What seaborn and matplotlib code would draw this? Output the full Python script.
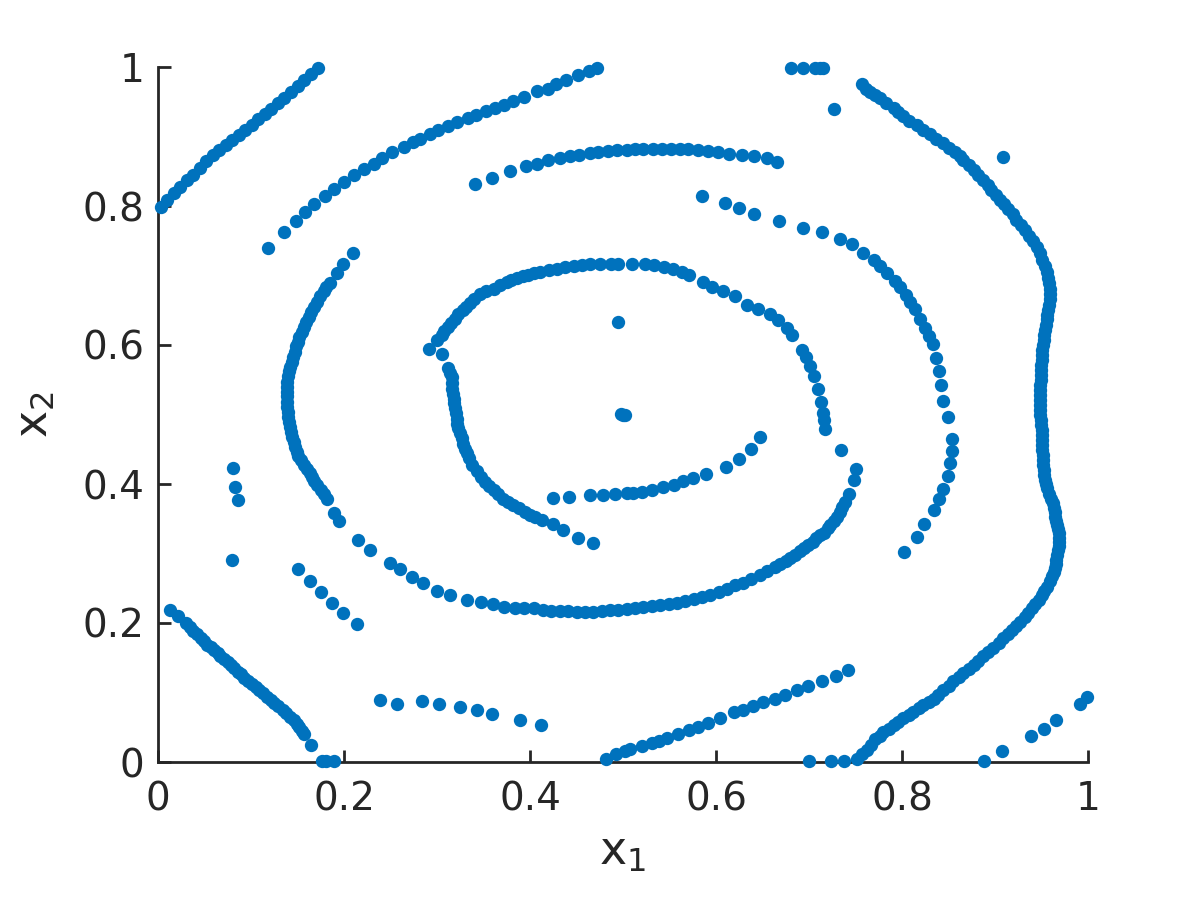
import matplotlib
matplotlib.use("Agg")
import matplotlib.pyplot as plt
import seaborn as sns
import pandas as pd

# points, grouped by visible curve (x1, x2)
top_left_diag = [
    (0.003, 0.799), (0.010, 0.809), (0.017, 0.819), (0.024, 0.828), (0.031, 0.837),
    (0.038, 0.845), (0.045, 0.855), (0.052, 0.865), (0.059, 0.873), (0.066, 0.880),
    (0.073, 0.888), (0.080, 0.895), (0.087, 0.902), (0.094, 0.910), (0.101, 0.917),
    (0.108, 0.925), (0.115, 0.932), (0.122, 0.940), (0.129, 0.948), (0.136, 0.956),
    (0.143, 0.964), (0.150, 0.972), (0.157, 0.981), (0.164, 0.990), (0.172, 0.999)]

outer_top_arc = [
    (0.118, 0.740), (0.135, 0.762), (0.148, 0.778), (0.158, 0.791), (0.168, 0.803),
    (0.180, 0.814), (0.189, 0.824), (0.200, 0.834), (0.211, 0.845), (0.222, 0.853),
    (0.232, 0.861), (0.241, 0.869), (0.252, 0.877), (0.264, 0.885), (0.274, 0.892),
    (0.282, 0.897), (0.292, 0.903), (0.301, 0.909), (0.312, 0.915), (0.322, 0.921),
    (0.333, 0.926), (0.342, 0.931), (0.353, 0.937), (0.362, 0.941), (0.372, 0.945),
    (0.382, 0.951), (0.394, 0.957), (0.408, 0.965), (0.419, 0.969), (0.428, 0.975),
    (0.439, 0.981), (0.452, 0.988), (0.463, 0.994), (0.472, 0.999)]

upper_arc = [
    (0.341, 0.831), (0.359, 0.841), (0.378, 0.850), (0.396, 0.857), (0.407, 0.861),
    (0.419, 0.866), (0.432, 0.869), (0.443, 0.872), (0.453, 0.874), (0.464, 0.876),
    (0.473, 0.877), (0.484, 0.879), (0.494, 0.880), (0.504, 0.881), (0.513, 0.882),
    (0.522, 0.882), (0.532, 0.882), (0.542, 0.882), (0.552, 0.882), (0.561, 0.882),
    (0.570, 0.882), (0.581, 0.881), (0.591, 0.879), (0.602, 0.877), (0.614, 0.875),
    (0.628, 0.874), (0.641, 0.872), (0.655, 0.869), (0.666, 0.863)]

right_sparse_arc = [
    (0.585, 0.815), (0.610, 0.804), (0.625, 0.797), (0.641, 0.789), (0.668, 0.778),
    (0.694, 0.769), (0.714, 0.762), (0.733, 0.753), (0.746, 0.745), (0.758, 0.733),
    (0.770, 0.722), (0.776, 0.714), (0.784, 0.703), (0.792, 0.692), (0.798, 0.683),
    (0.804, 0.672), (0.809, 0.662), (0.814, 0.652), (0.819, 0.638), (0.825, 0.625),
    (0.829, 0.613), (0.833, 0.601), (0.837, 0.581), (0.840, 0.563), (0.842, 0.543),
    (0.844, 0.520), (0.849, 0.496), (0.854, 0.465), (0.854, 0.447), (0.852, 0.430),
    (0.849, 0.412), (0.844, 0.393), (0.840, 0.379), (0.834, 0.363), (0.824, 0.343),
    (0.816, 0.324), (0.802, 0.302)]

outer_right = [
    (0.757, 0.975), (0.761, 0.969), (0.766, 0.964), (0.771, 0.959), (0.776, 0.955),
    (0.783, 0.948), (0.791, 0.941), (0.796, 0.935), (0.801, 0.929), (0.808, 0.923),
    (0.816, 0.917), (0.823, 0.910), (0.830, 0.903), (0.837, 0.896), (0.844, 0.890),
    (0.851, 0.884), (0.857, 0.878), (0.862, 0.872), (0.866, 0.866), (0.872, 0.859),
    (0.877, 0.852), (0.882, 0.845), (0.887, 0.837), (0.892, 0.830), (0.896, 0.823),
    (0.901, 0.816), (0.905, 0.809), (0.910, 0.803), (0.914, 0.796), (0.919, 0.788),
    (0.923, 0.780), (0.928, 0.773), (0.932, 0.765), (0.937, 0.757), (0.941, 0.749),
    (0.945, 0.741), (0.948, 0.732), (0.951, 0.722), (0.954, 0.713), (0.956, 0.705),
    (0.957, 0.697), (0.958, 0.689), (0.959, 0.681), (0.959, 0.673), (0.959, 0.666),
    (0.958, 0.658), (0.957, 0.650), (0.956, 0.643), (0.956, 0.637), (0.955, 0.629),
    (0.954, 0.622), (0.953, 0.614), (0.953, 0.607), (0.952, 0.600), (0.951, 0.593),
    (0.950, 0.585), (0.950, 0.578), (0.949, 0.571), (0.949, 0.564), (0.949, 0.557),
    (0.949, 0.550), (0.948, 0.542), (0.948, 0.535), (0.948, 0.528), (0.948, 0.521),
    (0.948, 0.513), (0.948, 0.506), (0.948, 0.499), (0.949, 0.492), (0.949, 0.485),
    (0.950, 0.478), (0.950, 0.470), (0.951, 0.463), (0.951, 0.456), (0.951, 0.449),
    (0.952, 0.442), (0.952, 0.435), (0.952, 0.427), (0.953, 0.420), (0.953, 0.413),
    (0.954, 0.406), (0.955, 0.400), (0.956, 0.394), (0.958, 0.386), (0.960, 0.379),
    (0.962, 0.372), (0.963, 0.365), (0.965, 0.359), (0.965, 0.353), (0.966, 0.347),
    (0.967, 0.341), (0.968, 0.335), (0.969, 0.329), (0.969, 0.323), (0.969, 0.317),
    (0.969, 0.311), (0.968, 0.305), (0.967, 0.298), (0.966, 0.291), (0.966, 0.285),
    (0.965, 0.279), (0.963, 0.273), (0.961, 0.267), (0.959, 0.260), (0.956, 0.252),
    (0.953, 0.246), (0.950, 0.240), (0.947, 0.233), (0.943, 0.227), (0.940, 0.221),
    (0.936, 0.215), (0.932, 0.208), (0.927, 0.202), (0.923, 0.196), (0.918, 0.190),
    (0.914, 0.184), (0.909, 0.178), (0.904, 0.171), (0.898, 0.164), (0.893, 0.158),
    (0.887, 0.152), (0.882, 0.146), (0.877, 0.140), (0.872, 0.134), (0.866, 0.128),
    (0.861, 0.122), (0.855, 0.116), (0.850, 0.110), (0.844, 0.104), (0.839, 0.097),
    (0.834, 0.091), (0.829, 0.086), (0.823, 0.082), (0.818, 0.077), (0.812, 0.072),
    (0.807, 0.067), (0.801, 0.063), (0.796, 0.058), (0.791, 0.053), (0.786, 0.048),
    (0.780, 0.043), (0.776, 0.038), (0.771, 0.033), (0.767, 0.025), (0.762, 0.017),
    (0.757, 0.011), (0.752, 0.005)]

lower_right_line = [
    (0.482, 0.005), (0.493, 0.012), (0.502, 0.016), (0.508, 0.018), (0.520, 0.023),
    (0.531, 0.027), (0.539, 0.030), (0.547, 0.035), (0.559, 0.040), (0.571, 0.046),
    (0.581, 0.051), (0.591, 0.056), (0.604, 0.064), (0.619, 0.072), (0.629, 0.075),
    (0.640, 0.081), (0.651, 0.086), (0.663, 0.091), (0.674, 0.096), (0.687, 0.103),
    (0.699, 0.109), (0.714, 0.117), (0.729, 0.124), (0.742, 0.132)]

bottom_mid_line = [
    (0.239, 0.089), (0.257, 0.084), (0.284, 0.088), (0.302, 0.084), (0.325, 0.079),
    (0.343, 0.075), (0.359, 0.069), (0.389, 0.060), (0.412, 0.053)]

bottom_left_diag = [
    (0.013, 0.219), (0.022, 0.210), (0.030, 0.200), (0.034, 0.194), (0.038, 0.188),
    (0.042, 0.184), (0.046, 0.179), (0.050, 0.174), (0.053, 0.169), (0.057, 0.165),
    (0.060, 0.161), (0.064, 0.157), (0.067, 0.153), (0.071, 0.148), (0.075, 0.144),
    (0.079, 0.139), (0.082, 0.135), (0.086, 0.130), (0.089, 0.126), (0.093, 0.121),
    (0.097, 0.117), (0.101, 0.112), (0.105, 0.108), (0.109, 0.103), (0.113, 0.099),
    (0.117, 0.094), (0.121, 0.089), (0.125, 0.085), (0.129, 0.080), (0.134, 0.075),
    (0.138, 0.070), (0.142, 0.065), (0.146, 0.060), (0.149, 0.055), (0.152, 0.051),
    (0.155, 0.045), (0.157, 0.040), (0.165, 0.025),
    (0.176, 0.001), (0.181, 0.001), (0.189, 0.001)]

ring_left = [
    (0.210, 0.732), (0.199, 0.717), (0.193, 0.704), (0.185, 0.689), (0.181, 0.683),
    (0.178, 0.677), (0.174, 0.670), (0.171, 0.662), (0.168, 0.655), (0.165, 0.648),
    (0.162, 0.641), (0.159, 0.633), (0.157, 0.626), (0.155, 0.619), (0.152, 0.612),
    (0.150, 0.605), (0.148, 0.598), (0.147, 0.590), (0.145, 0.583), (0.144, 0.576),
    (0.142, 0.569), (0.141, 0.562), (0.140, 0.555), (0.139, 0.547), (0.139, 0.540),
    (0.139, 0.533), (0.139, 0.526), (0.139, 0.518), (0.139, 0.511), (0.140, 0.504),
    (0.140, 0.497), (0.141, 0.489), (0.142, 0.482), (0.143, 0.475), (0.144, 0.468),
    (0.146, 0.461), (0.147, 0.453), (0.149, 0.446), (0.151, 0.440), (0.154, 0.434),
    (0.157, 0.428), (0.160, 0.422), (0.163, 0.416), (0.166, 0.410), (0.168, 0.404),
    (0.171, 0.399), (0.175, 0.392), (0.178, 0.386), (0.182, 0.379), (0.189, 0.358),
    (0.195, 0.347)]

ring_bottom = [
    (0.215, 0.319), (0.228, 0.305), (0.249, 0.286), (0.260, 0.277), (0.273, 0.266),
    (0.285, 0.257), (0.300, 0.246), (0.314, 0.240), (0.332, 0.233), (0.347, 0.230),
    (0.360, 0.227), (0.372, 0.223), (0.384, 0.222), (0.394, 0.221), (0.404, 0.221),
    (0.414, 0.219), (0.423, 0.217), (0.432, 0.217), (0.441, 0.217), (0.450, 0.216),
    (0.459, 0.216), (0.468, 0.216), (0.477, 0.217), (0.486, 0.218), (0.495, 0.219),
    (0.504, 0.220), (0.513, 0.221), (0.522, 0.223), (0.531, 0.224), (0.540, 0.226),
    (0.549, 0.227), (0.558, 0.229), (0.567, 0.232), (0.576, 0.235), (0.585, 0.238),
    (0.594, 0.241), (0.603, 0.245), (0.612, 0.249), (0.620, 0.254), (0.629, 0.258),
    (0.638, 0.263), (0.647, 0.269), (0.655, 0.275), (0.663, 0.281), (0.669, 0.285),
    (0.675, 0.289), (0.680, 0.293), (0.685, 0.298), (0.690, 0.304), (0.695, 0.308),
    (0.699, 0.312), (0.704, 0.317), (0.708, 0.322), (0.712, 0.326), (0.716, 0.330),
    (0.720, 0.336), (0.723, 0.341), (0.727, 0.347), (0.730, 0.352), (0.733, 0.360),
    (0.736, 0.367), (0.739, 0.374), (0.743, 0.386), (0.748, 0.406), (0.750, 0.421),
    (0.734, 0.449)]

inner_top = [
    (0.291, 0.594), (0.300, 0.607), (0.305, 0.614), (0.308, 0.620), (0.312, 0.626),
    (0.315, 0.632), (0.319, 0.638), (0.323, 0.644), (0.328, 0.650), (0.331, 0.655),
    (0.335, 0.660), (0.340, 0.666), (0.346, 0.673), (0.353, 0.677), (0.361, 0.681),
    (0.368, 0.686), (0.375, 0.690), (0.380, 0.693), (0.386, 0.696), (0.392, 0.699),
    (0.398, 0.701), (0.404, 0.703), (0.411, 0.705), (0.420, 0.708), (0.429, 0.710),
    (0.438, 0.712), (0.447, 0.714), (0.456, 0.715), (0.465, 0.716), (0.475, 0.716),
    (0.487, 0.717), (0.495, 0.717), (0.510, 0.717), (0.524, 0.716), (0.533, 0.715),
    (0.544, 0.712), (0.554, 0.710), (0.563, 0.705), (0.571, 0.701), (0.586, 0.691),
    (0.596, 0.684), (0.608, 0.677), (0.620, 0.670), (0.633, 0.658), (0.645, 0.652),
    (0.658, 0.645), (0.667, 0.636), (0.676, 0.625), (0.682, 0.615), (0.693, 0.593),
    (0.697, 0.583), (0.701, 0.570), (0.705, 0.555), (0.710, 0.537), (0.713, 0.518),
    (0.715, 0.502), (0.716, 0.492), (0.717, 0.479)]

inner_left = [
    (0.305, 0.587), (0.312, 0.567), (0.314, 0.560), (0.316, 0.554), (0.316, 0.545),
    (0.316, 0.537), (0.317, 0.530), (0.318, 0.523), (0.318, 0.516), (0.319, 0.509),
    (0.320, 0.502), (0.321, 0.494), (0.322, 0.487), (0.323, 0.480), (0.325, 0.473),
    (0.327, 0.466), (0.328, 0.458), (0.330, 0.451), (0.332, 0.444), (0.334, 0.437),
    (0.338, 0.428), (0.343, 0.418), (0.347, 0.410), (0.352, 0.403), (0.356, 0.397),
    (0.361, 0.391), (0.366, 0.385), (0.371, 0.379), (0.376, 0.374), (0.382, 0.370),
    (0.388, 0.365), (0.395, 0.360), (0.400, 0.356), (0.405, 0.353), (0.413, 0.348),
    (0.425, 0.342), (0.435, 0.334), (0.452, 0.323), (0.468, 0.315)]

inner_low = [
    (0.425, 0.380), (0.442, 0.382), (0.465, 0.384), (0.478, 0.384), (0.491, 0.385),
    (0.504, 0.387), (0.511, 0.387), (0.520, 0.388), (0.531, 0.391), (0.543, 0.396),
    (0.555, 0.399), (0.565, 0.404), (0.575, 0.408), (0.589, 0.415), (0.611, 0.424),
    (0.625, 0.436), (0.638, 0.450), (0.647, 0.467)]

scattered = [
    (0.495, 0.633), (0.498, 0.501), (0.502, 0.499), (0.500, 0.500),
    (0.081, 0.423), (0.083, 0.396), (0.086, 0.377), (0.080, 0.291),
    (0.151, 0.278), (0.163, 0.260), (0.175, 0.244), (0.187, 0.229), (0.199, 0.215), (0.214, 0.198),
    (0.681, 0.999), (0.694, 0.999), (0.706, 0.999), (0.712, 0.999), (0.715, 0.999),
    (0.727, 0.940), (0.909, 0.871),
    (0.700, 0.001), (0.724, 0.001), (0.738, 0.001), (0.888, 0.002), (0.908, 0.016),
    (0.939, 0.037), (0.953, 0.048), (0.966, 0.060), (0.991, 0.084), (0.999, 0.093)]

curves = [top_left_diag, outer_top_arc, upper_arc, right_sparse_arc, outer_right,
          lower_right_line, bottom_mid_line, bottom_left_diag, ring_left, ring_bottom,
          inner_top, inner_left, inner_low, scattered]
df = pd.DataFrame([p for c in curves for p in c], columns=["x1", "x2"])

sns.set_style("ticks")
plt.rcParams['font.family'] = ['DejaVu Sans']
ink = "#262626"

fig = plt.figure(figsize=(12, 9), dpi=100)
ax = fig.add_axes([158 / 1200, 1 - 762 / 900, 930 / 1200, 695 / 900])
sns.scatterplot(data=df, x="x1", y="x2", s=92, color="#0072BD", linewidth=0,
                ax=ax, clip_on=False, zorder=3)

ticks = [0, 0.2, 0.4, 0.6, 0.8, 1]
tick_labels = ["0", "0.2", "0.4", "0.6", "0.8", "1"]
ax.set_xlim(0, 1)
ax.set_ylim(0, 1)
ax.set_xticks(ticks)
ax.set_xticklabels(tick_labels)
ax.set_yticks(ticks)
ax.set_yticklabels(tick_labels)
ax.tick_params(direction="in", length=9, width=2, labelsize=28, colors=ink)
ax.tick_params(axis="x", pad=13)
ax.tick_params(axis="y", pad=10)
sns.despine(ax=ax)
for side in ["left", "bottom"]:
    ax.spines[side].set_linewidth(2)
    ax.spines[side].set_color(ink)

ax.set_xlabel("x$_1$", fontsize=33, color=ink, labelpad=8)
ax.set_ylabel("x$_2$", fontsize=33, color=ink, labelpad=18)

fig.savefig("out.png", dpi=100)
